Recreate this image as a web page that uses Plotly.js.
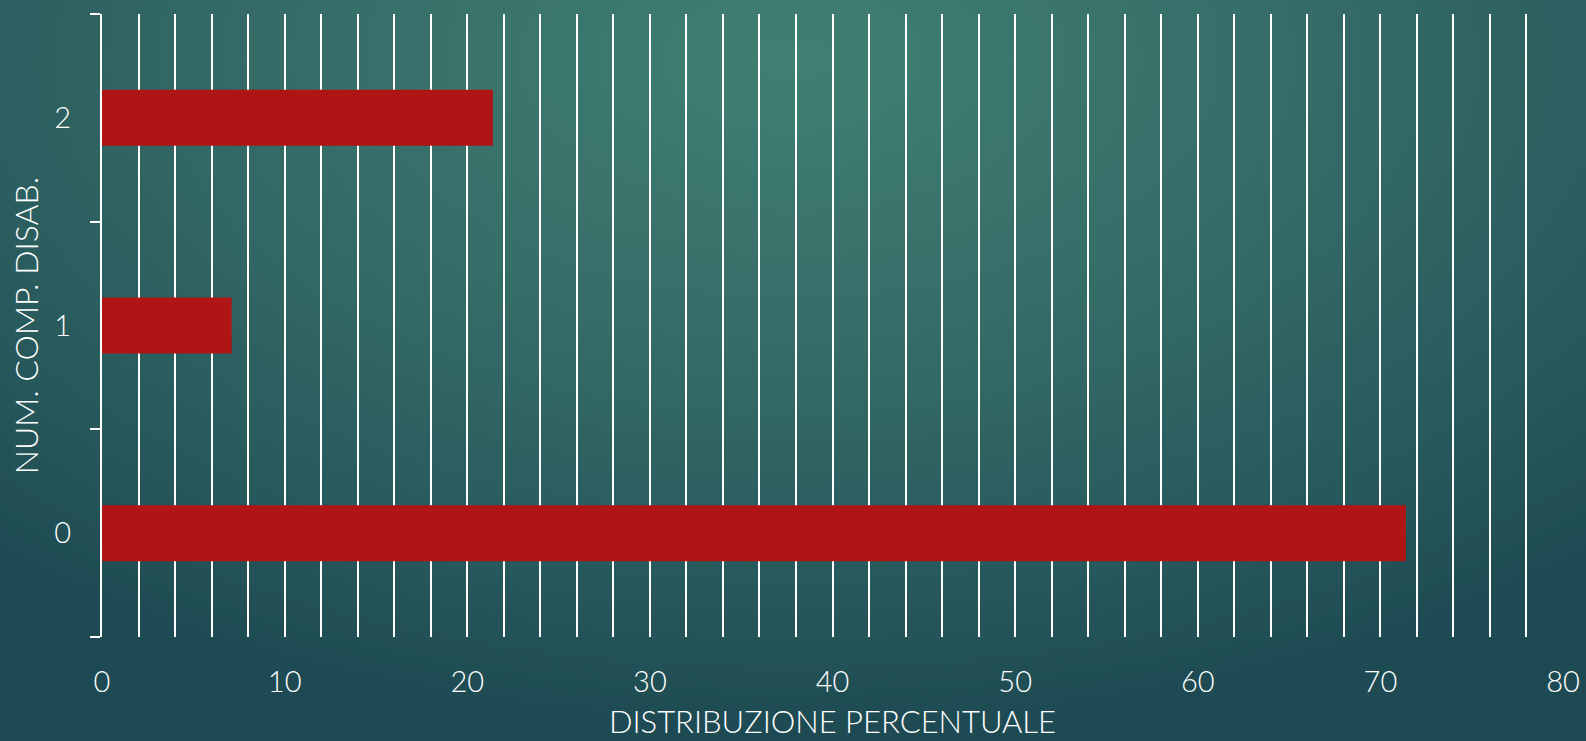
<!DOCTYPE html>
<html>
<head>
<meta charset="utf-8">
<script src="https://cdn.plot.ly/plotly-3.0.1.min.js"></script>
<style>
html, body { margin:0; padding:0; width:1586px; height:741px; overflow:hidden;
  background: radial-gradient(ellipse 75% 90% at 50% 8%, #417f72 0%, #346b67 45%, #27585b 80%, #1e4b53 100%); }
#chart { width:1586px; height:741px; }
</style>
</head>
<body>
<div id="chart"></div>
<script>
const categories = ['0', '1', '2'];
const percentages = [71.4, 7.1, 21.4];
const xTitle = 'DISTRIBUZIONE PERCENTUALE';
const yTitle = 'NUM. COMP. DISAB.';

const fontFam = 'Lato, "Open Sans", sans-serif';

Plotly.newPlot('chart', [{
  type: 'bar',
  orientation: 'h',
  y: categories,
  x: percentages,
  width: 0.27,
  marker: { color: '#b01515', line: { width: 0 } },
  hoverinfo: 'x+y'
}], {
  width: 1586, height: 741,
  paper_bgcolor: 'rgba(0,0,0,0)',
  plot_bgcolor: 'rgba(0,0,0,0)',
  margin: { l: 101.5, r: 23, t: 14, b: 104 },
  showlegend: false,
  font: { family: fontFam, color: '#ffffff', weight: 300 },
  xaxis: {
    range: [0, 80],
    dtick: 10,
    tick0: 0,
    showgrid: true,
    gridcolor: '#ffffff',
    gridwidth: 2,
    minor: { dtick: 2, showgrid: true, gridcolor: '#ffffff', gridwidth: 2 },
    zeroline: false,
    showline: false,
    ticks: '',
    ticklabelstandoff: 25,
    tickfont: { size: 29, color: '#ffffff', family: fontFam, weight: 300 },
    title: { text: xTitle, font: { size: 31, color: '#ffffff', family: fontFam, weight: 300 }, standoff: 14 },
    fixedrange: true
  },
  yaxis: {
    type: 'category',
    categoryorder: 'array',
    categoryarray: categories,
    range: [-0.5, 2.5],
    showline: true,
    linecolor: '#ffffff',
    linewidth: 2,
    ticks: 'outside',
    tickson: 'boundaries',
    ticklen: 10,
    tickwidth: 2,
    tickcolor: '#ffffff',
    showgrid: false,
    zeroline: false,
    ticklabelstandoff: 23,
    tickfont: { size: 29, color: '#ffffff', family: fontFam, weight: 300 },
    title: { text: yTitle, font: { size: 32, color: '#ffffff', family: fontFam, weight: 300 }, standoff: 6 },
    fixedrange: true
  }
}, { displayModeBar: false, staticPlot: true });
</script>
</body>
</html>
